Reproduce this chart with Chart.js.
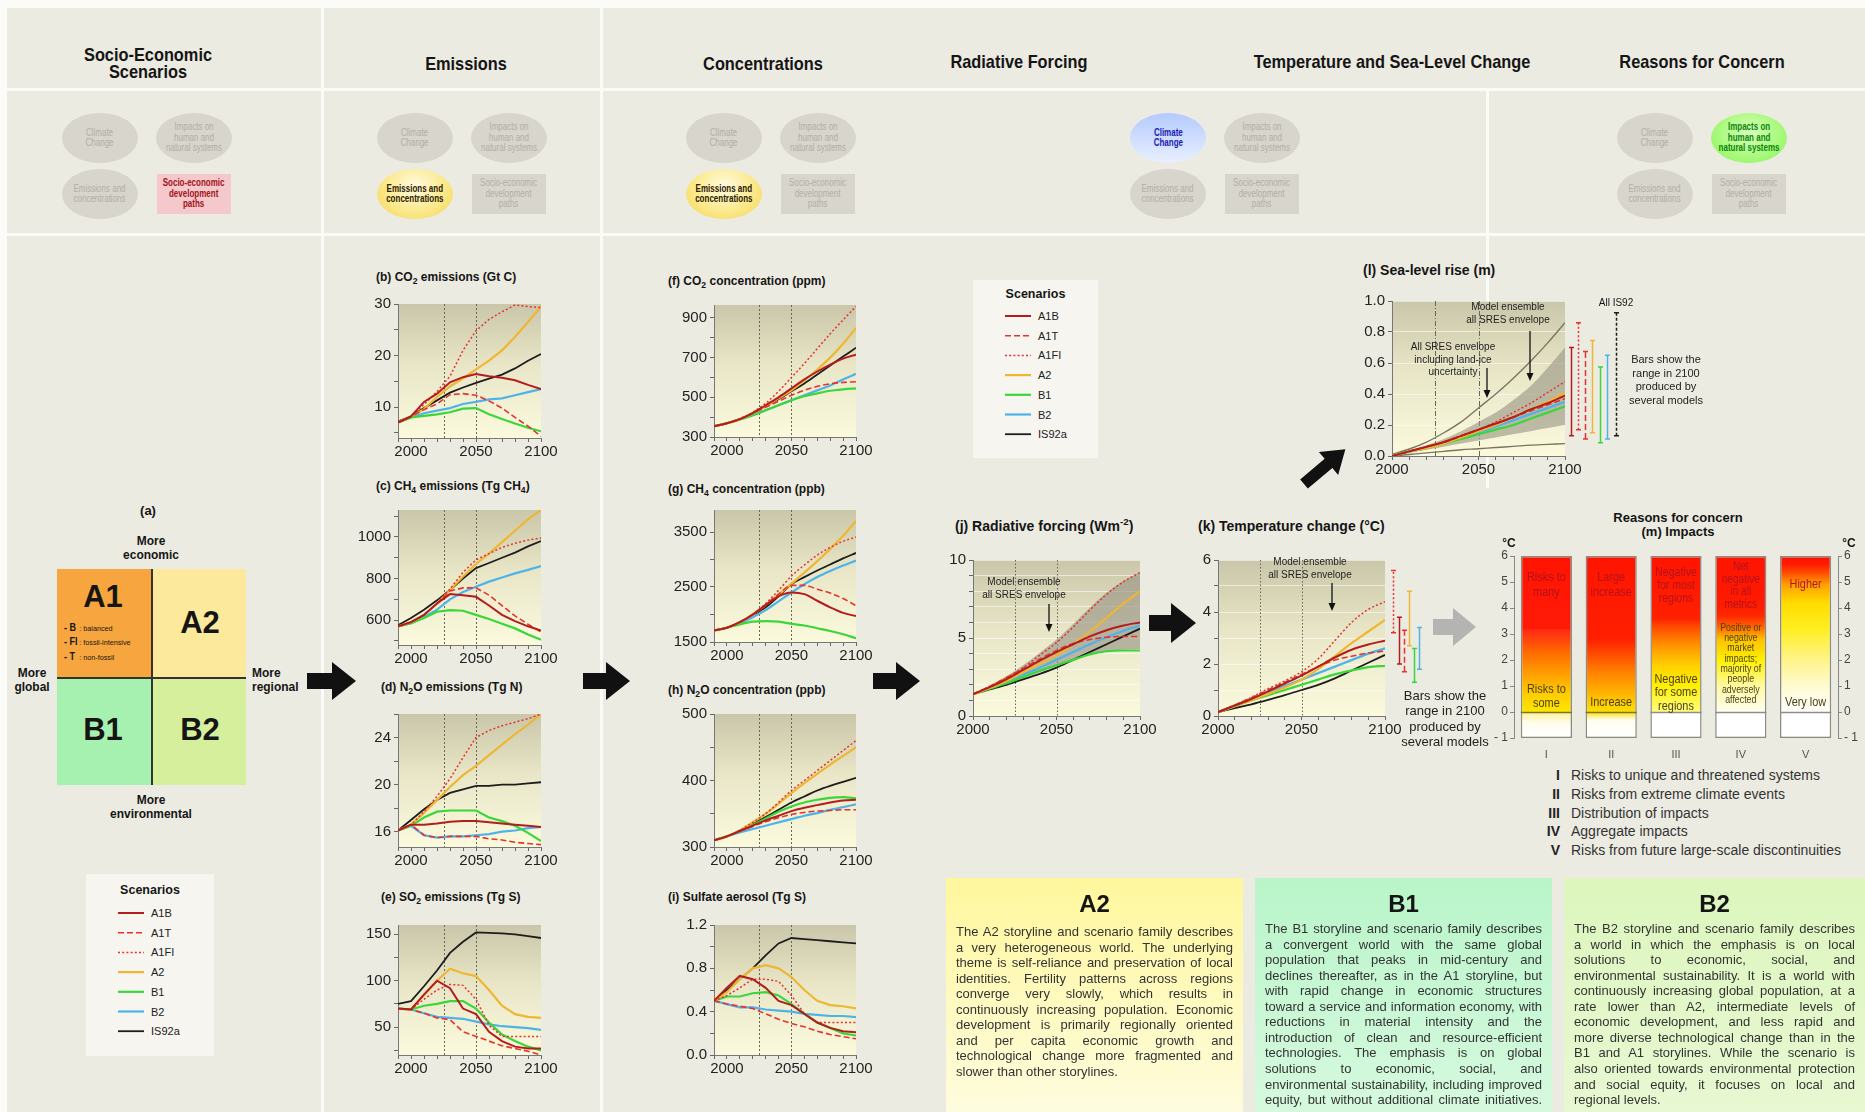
<!DOCTYPE html>
<html><head><meta charset="utf-8"><title>SRES scenarios</title>
<script src="https://cdn.jsdelivr.net/npm/chart.js@4.4.1/dist/chart.umd.min.js"></script>
<style>
html,body{margin:0;padding:0;background:#fff;}
#stage{position:relative;width:1865px;height:1112px;overflow:hidden;background:#ecebe1;font-family:"Liberation Sans",Arial,Helvetica,sans-serif;color:#151515;}
.t{position:absolute;white-space:nowrap;}
.b{font-weight:bold;}
.sep{position:absolute;background:#fbfbf7;}
.icon{position:absolute;display:flex;align-items:center;justify-content:center;text-align:center;font-size:10px;line-height:10.5px;color:#b1afa6;background:#d7d5cc;transform:translate(-50%,-50%);}
.icon span{display:inline-block;transform:scaleX(0.8);white-space:nowrap;}
.ell{border-radius:50%;width:76px;height:50px;}
.rct{width:74px;height:40px;}
.legend{position:absolute;background:#f6f5ef;}
.box{position:absolute;}
.box .ln{position:absolute;text-align:justify;text-align-last:justify;font-size:13px;line-height:15px;color:#333;transform:translateY(-50%);}
.box .ln.last{text-align-last:left;}
sub{font-size:72%;vertical-align:-3px;line-height:0;}
sup{font-size:70%;vertical-align:6px;line-height:0;}
canvas{position:absolute;}
svg{position:absolute;left:0;top:0;}
</style></head>
<body><div id="stage"></div>
<script>
// ================= DATA =================
const scenarios = ['A1B','A1T','A1FI','A2','B1','B2','IS92a'];
const scenColor = ['#b31d1d','#e6332d','#e6332d','#efb634','#3ad63a','#4fb3ea','#1d1d1d'];
const scenDash  = [[],[6,3],[2,2.2],[],[],[],[]];
const scenWidth = [2,1.6,1.5,2.2,2.2,2.2,1.8];

const yearsHist = [1990,2000,2010,2020,2030,2040,2050,2060,2070,2080,2090,2100];
const yearsProj = [2000,2010,2020,2030,2040,2050,2060,2070,2080,2090,2100];
const yearTicksHist = [1990,2000,2010,2020,2030,2040,2050,2060,2070,2080,2090,2100];
const yearTicksProj = [2000,2010,2020,2030,2040,2050,2060,2070,2080,2090,2100];
const yearLabels = [2000,2050,2100];
const markerYears = [2025,2050];

// (b) CO2 emissions (Gt C)
const co2Emissions = {
  A1B:  [7.0, 8.2, 11.0, 12.6, 14.8, 15.8, 16.4, 16.0, 15.7, 15.2, 14.3, 13.5],
  A1T:  [7.0, 8.2, 9.5, 10.6, 12.4, 12.6, 12.3, 11.2, 9.8, 8.0, 6.3, 4.3],
  A1FI: [7.0, 8.2, 10.5, 13.0, 16.0, 21.0, 24.8, 27.0, 28.5, 29.8, 29.5, 29.3],
  A2:   [7.0, 8.2, 9.6, 12.0, 14.0, 15.6, 17.3, 19.0, 21.0, 23.6, 26.5, 29.5],
  B1:   [7.0, 8.0, 8.3, 8.6, 9.0, 9.7, 9.8, 8.6, 7.7, 6.8, 6.0, 5.3],
  B2:   [7.0, 8.0, 8.8, 9.3, 9.8, 10.6, 11.0, 11.5, 11.7, 12.3, 12.9, 13.5],
  IS92a:[7.2, 8.2, 9.8, 11.3, 12.8, 13.8, 14.7, 15.5, 16.3, 17.5, 19.0, 20.3]
};
// (c) CH4 emissions (Tg CH4)
const ch4Emissions = {
  A1B:  [570, 590, 625, 680, 725, 720, 712, 670, 625, 595, 570, 550],
  A1T:  [570, 590, 625, 680, 740, 755, 755, 720, 670, 620, 580, 543],
  A1FI: [570, 590, 625, 680, 750, 830, 890, 920, 950, 970, 985, 995],
  A2:   [570, 590, 625, 680, 745, 810, 870, 920, 975, 1030, 1085, 1130],
  B1:   [570, 585, 610, 640, 648, 645, 625, 605, 582, 560, 530, 505],
  B2:   [570, 585, 615, 650, 700, 735, 760, 785, 805, 825, 842, 860],
  IS92a:[575, 610, 650, 695, 745, 800, 850, 875, 900, 925, 955, 980]
};
// (d) N2O emissions (Tg N)
const n2oEmissions = {
  A1B:  [16.1, 16.6, 16.6, 16.7, 16.85, 16.9, 16.9, 16.8, 16.7, 16.6, 16.5, 16.4],
  A1T:  [16.1, 16.6, 15.7, 15.5, 15.6, 15.6, 15.6, 15.4, 15.3, 15.1, 15.0, 14.9],
  A1FI: [16.1, 16.6, 17.7, 19.0, 20.5, 22.3, 24.0, 24.6, 25.0, 25.3, 25.6, 26.0],
  A2:   [16.1, 16.6, 17.6, 18.7, 19.8, 20.8, 21.6, 22.5, 23.4, 24.3, 25.1, 26.0],
  B1:   [16.1, 16.5, 17.2, 17.7, 17.8, 17.8, 17.8, 17.2, 16.9, 16.5, 15.9, 15.2],
  B2:   [16.1, 16.5, 15.7, 15.5, 15.6, 15.6, 15.7, 15.8, 16.0, 16.1, 16.3, 16.4],
  IS92a:[16.1, 17.0, 17.9, 18.7, 19.3, 19.6, 19.9, 19.9, 20.0, 20.0, 20.1, 20.2]
};
// (e) SO2 emissions (Tg S)
const so2Emissions = {
  A1B:  [70, 69, 85, 100, 92, 70, 64, 45, 35, 29, 27, 27],
  A1T:  [70, 69, 65, 60, 58, 45, 40, 35, 30, 27, 24, 20],
  A1FI: [70, 69, 80, 90, 96, 95, 80, 52, 40, 40, 40, 40],
  A2:   [70, 69, 85, 100, 113, 108, 105, 90, 73, 64, 61, 60],
  B1:   [70, 69, 73, 75, 78, 78, 70, 55, 42, 35, 29, 25],
  B2:   [70, 69, 65, 61, 60, 59, 56, 53, 51, 50, 49, 47],
  IS92a:[75, 78, 94, 111, 130, 142, 152, 151.5, 151, 150, 148, 146]
};
// (f) CO2 concentration (ppm)
const co2Conc = {
  A1B:  [354, 369, 390, 420, 460, 500, 545, 590, 630, 665, 695, 715],
  A1T:  [354, 369, 390, 420, 450, 480, 510, 535, 555, 568, 575, 578],
  A1FI: [354, 369, 392, 425, 470, 530, 600, 670, 745, 820, 890, 958],
  A2:   [354, 369, 390, 420, 455, 495, 535, 585, 640, 700, 770, 850],
  B1:   [354, 369, 388, 410, 435, 460, 485, 505, 520, 533, 540, 545],
  B2:   [354, 369, 388, 410, 435, 460, 485, 510, 535, 560, 590, 618],
  IS92a:[354, 369, 390, 420, 455, 490, 530, 570, 615, 660, 705, 750]
};
// (g) CH4 concentration (ppb)
const ch4Conc = {
  A1B:  [1710, 1760, 1860, 2000, 2170, 2330, 2400, 2370, 2250, 2130, 2030, 1970],
  A1T:  [1710, 1760, 1860, 2000, 2180, 2370, 2530, 2530, 2460, 2390, 2290, 2160],
  A1FI: [1710, 1760, 1860, 2000, 2200, 2440, 2700, 2900, 3080, 3220, 3330, 3410],
  A2:   [1710, 1760, 1860, 2000, 2170, 2360, 2560, 2760, 2970, 3190, 3430, 3700],
  B1:   [1710, 1760, 1820, 1870, 1880, 1870, 1830, 1800, 1750, 1700, 1640, 1570],
  B2:   [1710, 1760, 1840, 1950, 2080, 2240, 2400, 2550, 2680, 2790, 2890, 2980],
  IS92a:[1710, 1760, 1860, 1990, 2130, 2330, 2550, 2680, 2800, 2910, 3020, 3120]
};
// (h) N2O concentration (ppb)
const n2oConc = {
  A1B:  [310, 316, 324, 332, 340, 347, 354, 359, 363, 367, 370, 371],
  A1T:  [310, 316, 324, 331, 338, 344, 349, 352, 354, 355, 356, 356],
  A1FI: [310, 316, 325, 337, 350, 367, 385, 400, 415, 430, 445, 460],
  A2:   [310, 316, 325, 337, 350, 365, 381, 396, 410, 424, 437, 450],
  B1:   [310, 316, 324, 333, 343, 353, 361, 367, 371, 374, 375, 373],
  B2:   [310, 316, 322, 327, 332, 337, 342, 347, 351, 356, 360, 364],
  IS92a:[310, 316, 325, 335, 345, 356, 367, 376, 385, 392, 398, 404]
};
// (i) Sulfate aerosol (Tg S)
const sulfate = {
  A1B:  [0.50, 0.62, 0.73, 0.70, 0.62, 0.50, 0.46, 0.38, 0.30, 0.25, 0.22, 0.21],
  A1T:  [0.50, 0.47, 0.45, 0.43, 0.38, 0.33, 0.29, 0.26, 0.22, 0.19, 0.17, 0.15],
  A1FI: [0.50, 0.55, 0.62, 0.70, 0.70, 0.68, 0.55, 0.38, 0.30, 0.30, 0.30, 0.30],
  A2:   [0.50, 0.58, 0.70, 0.80, 0.83, 0.80, 0.72, 0.60, 0.50, 0.46, 0.45, 0.43],
  B1:   [0.50, 0.54, 0.54, 0.57, 0.58, 0.55, 0.47, 0.38, 0.30, 0.25, 0.20, 0.18],
  B2:   [0.50, 0.47, 0.44, 0.44, 0.42, 0.41, 0.40, 0.38, 0.37, 0.36, 0.36, 0.35],
  IS92a:[0.50, 0.60, 0.70, 0.80, 0.92, 1.03, 1.08, 1.07, 1.06, 1.05, 1.04, 1.03]
};
// (j) Radiative forcing (W m-2)
const forcing = {
  A1B:  [1.4, 1.85, 2.35, 2.95, 3.55, 4.1, 4.6, 5.1, 5.5, 5.8, 6.0],
  A1T:  [1.4, 1.9, 2.45, 3.05, 3.65, 4.2, 4.65, 4.9, 5.05, 5.1, 5.1],
  A1FI: [1.4, 1.9, 2.45, 3.1, 3.9, 4.7, 5.7, 6.8, 7.8, 8.6, 9.2],
  A2:   [1.4, 1.8, 2.25, 2.8, 3.35, 3.9, 4.6, 5.4, 6.3, 7.2, 8.0],
  B1:   [1.4, 1.75, 2.1, 2.5, 2.9, 3.25, 3.6, 3.95, 4.15, 4.2, 4.2],
  B2:   [1.4, 1.8, 2.2, 2.65, 3.1, 3.6, 4.1, 4.6, 5.05, 5.45, 5.8],
  IS92a:[1.4, 1.7, 2.0, 2.35, 2.7, 3.1, 3.6, 4.1, 4.6, 5.1, 5.6]
};
const forcingEnvHi = [1.4, 1.95, 2.55, 3.25, 4.05, 4.9, 5.9, 6.95, 7.9, 8.65, 9.2];
const forcingEnvLo = [1.4, 1.7, 2.0, 2.4, 2.8, 3.2, 3.6, 3.95, 4.15, 4.25, 4.3];
// (k) Temperature change (°C)
const temperature = {
  A1B:  [0.15, 0.4, 0.65, 0.95, 1.25, 1.55, 1.9, 2.25, 2.55, 2.75, 2.9],
  A1T:  [0.15, 0.42, 0.7, 1.0, 1.3, 1.6, 1.9, 2.15, 2.3, 2.42, 2.5],
  A1FI: [0.15, 0.42, 0.72, 1.05, 1.35, 1.7, 2.2, 2.9, 3.6, 4.1, 4.4],
  A2:   [0.15, 0.38, 0.6, 0.85, 1.1, 1.4, 1.8, 2.3, 2.8, 3.25, 3.7],
  B1:   [0.15, 0.38, 0.6, 0.8, 1.0, 1.2, 1.4, 1.6, 1.75, 1.88, 1.93],
  B2:   [0.15, 0.4, 0.65, 0.9, 1.15, 1.4, 1.65, 1.9, 2.15, 2.4, 2.6],
  IS92a:[0.15, 0.3, 0.45, 0.62, 0.8, 1.0, 1.2, 1.45, 1.75, 2.05, 2.35]
};
const tempBarScen = ['A1FI','A1B','A1T','A2','B1','B2'];
const tempBarLo   = [3.2, 2.0, 1.7, 2.7, 1.3, 1.8];
const tempBarHi   = [5.6, 3.8, 3.3, 4.8, 2.6, 3.4];
// (l) Sea-level rise (m)
const seaLevel = {
  A1B:  [0.0, 0.03, 0.06, 0.09, 0.13, 0.17, 0.21, 0.25, 0.30, 0.34, 0.39],
  A1T:  [0.0, 0.03, 0.06, 0.09, 0.13, 0.17, 0.21, 0.25, 0.29, 0.33, 0.37],
  A1FI: [0.0, 0.03, 0.06, 0.09, 0.13, 0.17, 0.22, 0.28, 0.34, 0.41, 0.48],
  A2:   [0.0, 0.03, 0.05, 0.08, 0.12, 0.16, 0.20, 0.25, 0.30, 0.35, 0.41],
  B1:   [0.0, 0.03, 0.05, 0.08, 0.11, 0.14, 0.17, 0.20, 0.24, 0.28, 0.32],
  B2:   [0.0, 0.03, 0.05, 0.08, 0.12, 0.15, 0.19, 0.23, 0.27, 0.31, 0.35]
};
const seaEnvHi = [0.0, 0.035, 0.07, 0.11, 0.16, 0.22, 0.28, 0.36, 0.45, 0.57, 0.70];
const seaEnvLo = [0.0, 0.02, 0.04, 0.06, 0.08, 0.10, 0.12, 0.14, 0.16, 0.18, 0.20];
const seaIceHi = [0.01, 0.045, 0.09, 0.15, 0.22, 0.31, 0.40, 0.50, 0.61, 0.73, 0.86];
const seaIceLo = [0.0, 0.01, 0.02, 0.03, 0.04, 0.047, 0.055, 0.062, 0.07, 0.075, 0.08];
const seaBarScen = ['A1B','A1FI','A1T','A2','B1','B2','IS92a'];
const seaBarLo   = [0.13, 0.17, 0.11, 0.15, 0.085, 0.11, 0.13];
const seaBarHi   = [0.70, 0.86, 0.675, 0.745, 0.575, 0.65, 0.925];
// (m) Reasons for concern
const rfcNames = ['I','II','III','IV','V'];
const rfcLow   = [-1,-1,-1,-1,-1];
const rfcHigh  = [6,6,6,6,6];
const rfcTop = [['Risks to','many'],['Large','increase'],['Negative','for most','regions'],['Net','negative','in all','metrics'],['Higher']];
const rfcTopAt = [4.9, 4.9, 4.87, 4.85, 4.92];
const rfcBottom = [['Risks to','some'],['Increase'],['Negative','for some','regions'],
  ['Positive or','negative','market','impacts;','majority of','people','adversely','affected'],['Very low']];
const rfcBottomAt = [0.6, 0.38, 0.75, 1.85, 0.38];
const rfcLegend = [['I','Risks to unique and threatened systems'],['II','Risks from extreme climate events'],
  ['III','Distribution of impacts'],['IV','Aggregate impacts'],['V','Risks from future large-scale discontinuities']];

// ================= HELPERS =================
const stage = document.getElementById('stage');
const FONT = '"Liberation Sans", Arial, sans-serif';
Chart.defaults.font.family = FONT;
Chart.defaults.color = '#222';

function el(tag, cls, css, html){ const d=document.createElement(tag); if(cls) d.className=cls; if(css) d.style.cssText=css; if(html!==undefined) d.innerHTML=html; stage.appendChild(d); return d; }
function T(html, x, y, cls, css, anchor, sx){
  const tx = anchor==='c' ? '-50%' : anchor==='r' ? '-100%' : '0';
  const org = anchor==='c' ? 'center' : anchor==='r' ? 'right' : 'left';
  const sc = sx ? ` scaleX(${sx})` : '';
  return el('div','t '+(cls||''), `left:${x}px;top:${y}px;transform-origin:${org} center;transform:translate(${tx},-50%)${sc};`+(css||''), html);
}
function mkCanvas(left, top, w, h){
  const c=document.createElement('canvas'); c.width=w; c.height=h;
  c.style.left=left+'px'; c.style.top=top+'px'; c.style.width=w+'px'; c.style.height=h+'px';
  stage.appendChild(c); return c;
}
function near(list, v){ return list.some(m=>Math.abs(m-v)<1e-7); }

// ================= BACKGROUND / SEPARATORS =================
el('div','sep','left:0;top:0;width:1865px;height:8px;');
el('div','sep','left:0;top:0;width:7px;height:1112px;');
el('div','sep','left:7px;top:88px;width:1858px;height:3px;');
el('div','sep','left:7px;top:233px;width:1858px;height:3px;');
el('div','sep','left:321px;top:8px;width:3px;height:1104px;');
el('div','sep','left:600px;top:8px;width:3px;height:1104px;');
el('div','sep','left:1486px;top:90px;width:3px;height:398px;');

// ================= HEADERS =================
const hcss = 'font-size:19px;line-height:17px;text-align:center;';
T('Socio-Economic<br>Scenarios', 148, 63, 'b', hcss, 'c', 0.86);
T('Emissions', 466, 63, 'b', hcss, 'c', 0.86);
T('Concentrations', 763, 63, 'b', hcss, 'c', 0.86);
T('Radiative Forcing', 1019, 61, 'b', hcss, 'c', 0.86);
T('Temperature and Sea-Level Change', 1392, 61, 'b', hcss, 'c', 0.86);
T('Reasons for Concern', 1702, 61, 'b', hcss, 'c', 0.86);

// ================= ICONS =================
const iconClusters = [
  {cx:147, hi:'socio'}, {cx:462, hi:'emis'}, {cx:771, hi:'emis'}, {cx:1215, hi:'cc'}, {cx:1702, hi:'imp'}
];
iconClusters.forEach(c=>{
  const L=c.cx-47, R=c.cx+47;
  const cc = el('div','icon ell',`left:${L}px;top:138px;`,'<span>Climate<br>Change</span>');
  const im = el('div','icon ell',`left:${R}px;top:138px;`,'<span>Impacts on<br>human and<br>natural systems</span>');
  const em = el('div','icon ell',`left:${L}px;top:194px;`,'<span>Emissions and<br>concentrations</span>');
  const so = el('div','icon rct',`left:${R}px;top:194px;`,'<span>Socio-economic<br>development<br>paths</span>');
  if(c.hi==='socio'){ so.style.background='#f5c8cb'; so.style.color='#a3121b'; so.style.fontWeight='bold'; }
  if(c.hi==='emis'){ em.style.background='radial-gradient(ellipse at 50% 35%, #fffbe2 0%, #fbe98c 55%, #f3d350 100%)'; em.style.color='#2b2000'; em.style.fontWeight='bold'; }
  if(c.hi==='cc'){ cc.style.background='linear-gradient(#b4c9ff, #e9f0ff)'; cc.style.color='#1a1ab4'; cc.style.fontWeight='bold'; }
  if(c.hi==='imp'){ im.style.background='radial-gradient(ellipse at 50% 40%, #d8ffbc 0%, #a6f97a 60%, #8cf05a 100%)'; im.style.color='#0c860c'; im.style.fontWeight='bold'; }
});

// ================= PANEL (a) =================
el('div','',`position:absolute;left:57px;top:569px;width:95px;height:109px;background:#f7a53f;`);
el('div','',`position:absolute;left:152px;top:569px;width:94px;height:109px;background:#fde99b;`);
el('div','',`position:absolute;left:57px;top:678px;width:95px;height:107px;background:#a6f1b0;`);
el('div','',`position:absolute;left:152px;top:678px;width:94px;height:107px;background:#d5ef9c;`);
el('div','',`position:absolute;left:151px;top:569px;width:2px;height:216px;background:#333;`);
el('div','',`position:absolute;left:57px;top:677px;width:189px;height:2px;background:#333;`);
const bigQ = 'font-size:31px;font-weight:bold;';
T('A1', 103, 597, '', bigQ, 'c');
T('A2', 200, 623, '', bigQ, 'c');
T('B1', 103, 730, '', bigQ, 'c');
T('B2', 200, 730, '', bigQ, 'c');
const subQ = (b, s)=>`<b style="display:inline-block;width:17px;font-size:10px">- ${b}</b><span style="font-size:8px">: ${s}</span>`;
T(subQ('B','balanced'), 64, 626, '', '', '', 0.9);
T(subQ('FI','fossil-intensive'), 64, 640, '', '', '', 0.9);
T(subQ('T','non-fossil'), 64, 655, '', '', '', 0.9);
const lab = 'font-size:13px;font-weight:bold;line-height:14px;text-align:center;';
T('(a)', 148, 510, '', 'font-size:13px;font-weight:bold;', 'c');
T('More<br>economic', 151, 548, '', lab, 'c', 0.92);
T('More<br>global', 32, 680, '', lab, 'c', 0.92);
T('More<br>regional', 252, 680, '', lab.replace('center','left'), '', 0.92);
T('More<br>environmental', 151, 807, '', lab, 'c', 0.92);

// ================= LEGENDS =================
function legendBox(left, top, w, h, titleDy, rowDy){
  el('div','legend',`left:${left}px;top:${top}px;width:${w}px;height:${h}px;`);
  T('Scenarios', left+w/2, top+titleDy, 'b', 'font-size:12.5px;', 'c');
  let svg = `<svg width="${w}" height="${h}" style="left:${left}px;top:${top}px;">`;
  scenarios.forEach((s,i)=>{
    const y = rowDy + i*19.7;
    svg += `<line x1="32" x2="58" y1="${y}" y2="${y}" stroke="${scenColor[i]}" stroke-width="${scenWidth[i]}" stroke-dasharray="${scenDash[i].join(',')}"/>`;
  });
  svg += '</svg>';
  stage.insertAdjacentHTML('beforeend', svg);
  scenarios.forEach((s,i)=>{ T(s, left+65, top+rowDy+i*19.7, '', 'font-size:11px;color:#222;'); });
}
legendBox(86, 874, 128, 182, 16, 39);
legendBox(973, 280, 125, 178, 14, 36);

// ================= CHART FACTORY =================
const plotBg = { id:'plotBg', beforeDraw(ch){
  const a=ch.chartArea, c=ch.ctx;
  const g=c.createLinearGradient(0,a.top,0,a.bottom);
  g.addColorStop(0,'#cac6a9'); g.addColorStop(0.45,'#e8e6c7'); g.addColorStop(1,'#fcfadd');
  c.save(); c.fillStyle=g; c.fillRect(a.left,a.top,a.right-a.left,a.bottom-a.top); c.restore();
}};

function lineChart(box, o){
  const LW=o.lw||44, XH=24, PT=10, PR=o.pr||26;
  const cv=mkCanvas(box.x-LW, box.y-PT, box.w+LW+PR, box.h+PT+XH);
  const pts=(arr)=>o.xs.map((x,i)=>({x, y:arr[i]}));
  const smooth = o.smooth ? {tension:0.4, cubicInterpolationMode:'monotone'} : {tension:0};
  const ds=[];
  scenarios.forEach((s,i)=>{
    if(!o.data[s]) return;
    ds.push(Object.assign({label:s, data:pts(o.data[s]), borderColor:scenColor[i], borderDash:scenDash[i],
      borderWidth:scenWidth[i], pointRadius:0, fill:false, order:1}, smooth));
  });
  if(o.outer){
    ds.push(Object.assign({data:pts(o.outer.hi), borderColor:'#7a7560', borderWidth:1.4, pointRadius:0, fill:false, order:2}, smooth));
    ds.push(Object.assign({data:pts(o.outer.lo), borderColor:'#7a7560', borderWidth:1.4, pointRadius:0, fill:false, order:2}, smooth));
  }
  if(o.env){
    ds.push(Object.assign({data:pts(o.env.hi), borderWidth:0, borderColor:'rgba(0,0,0,0)', backgroundColor:o.env.fill, fill:'+1', pointRadius:0, order:5}, smooth));
    ds.push(Object.assign({data:pts(o.env.lo), borderWidth:0, borderColor:'rgba(0,0,0,0)', fill:false, pointRadius:0, order:5}, smooth));
  }
  const vlines = { id:'vlines', beforeDatasetsDraw(ch){
    const a=ch.chartArea, c=ch.ctx, xs=ch.scales.x;
    c.save(); c.strokeStyle=o.vColor||'#66665c'; c.lineWidth=1; c.setLineDash(o.vDash||[2,2]);
    markerYears.forEach(yr=>{ const x=Math.round(xs.getPixelForValue(yr))+0.5; c.beginPath(); c.moveTo(x,a.top); c.lineTo(x,a.bottom); c.stroke(); });
    c.restore();
  }};
  const rbars = { id:'rbars', afterDraw(ch){
    if(!o.bars) return;
    const a=ch.chartArea, c=ch.ctx, ys=ch.scales.y;
    o.bars.scen.forEach((s,i)=>{
      const si=scenarios.indexOf(s);
      const x=Math.round(a.right+o.bars.dx[i])+0.5, y1=ys.getPixelForValue(o.bars.lo[i]), y2=ys.getPixelForValue(o.bars.hi[i]);
      c.save(); c.strokeStyle=scenColor[si]; c.lineWidth=1.5;
      c.setLineDash(s==='IS92a'?[3,2]:scenDash[si]);
      c.beginPath(); c.moveTo(x,y1); c.lineTo(x,y2); c.stroke();
      c.setLineDash([]); c.beginPath(); c.moveTo(x-2.5,y1); c.lineTo(x+2.5,y1); c.moveTo(x-2.5,y2); c.lineTo(x+2.5,y2); c.stroke();
      c.restore();
    });
  }};
  new Chart(cv, {
    type:'line',
    data:{datasets:ds},
    options:{
      responsive:false, animation:false, devicePixelRatio:1, events:[],
      layout:{padding:{left:0,right:PR,top:PT,bottom:0}},
      plugins:{legend:{display:false}, tooltip:{enabled:false}, title:{display:false}},
      scales:{
        x:{type:'linear', min:o.xmin, max:o.xmax,
          afterFit(s){s.height=XH;},
          afterBuildTicks(s){s.ticks=o.xt.map(v=>({value:v}));},
          ticks:{autoSkip:false, maxRotation:0, padding:1, font:{size:15}, color:'#222', callback:(v)=>near(yearLabels,v)?String(v):''},
          grid:{drawOnChartArea:false, tickLength:4, tickColor:'#666'},
          border:{color:'#777', width:1}},
        y:{type:'linear', min:o.ymin, max:o.ymax,
          afterFit(s){s.width=LW;},
          afterBuildTicks(s){s.ticks=o.yt.map(v=>({value:v}));},
          ticks:{autoSkip:false, padding:3, font:{size:15}, color:'#222', callback:(v)=>near(o.ylab,v)?o.yfmt(v):''},
          grid:{drawOnChartArea:!!o.gridY, color:'rgba(255,255,255,0.55)', tickLength:4, tickColor:'#666'},
          border:{color:'#777', width:1}}
      }
    },
    plugins:[plotBg, vlines, rbars]
  });
}
const fInt = v=>String(Math.round(v));
const f1 = v=>v.toFixed(1);

// Column 2: emissions
lineChart({x:398,y:302,w:143,h:136}, {xs:yearsHist, data:co2Emissions, xmin:1990, xmax:2100, xt:yearTicksHist,
  ymin:4, ymax:30, yt:[5,10,15,20,25,30], ylab:[10,20,30], yfmt:fInt});
lineChart({x:398,y:508,w:143,h:137}, {xs:yearsHist, data:ch4Emissions, xmin:1990, xmax:2100, xt:yearTicksHist,
  ymin:480, ymax:1130, yt:[500,600,700,800,900,1000,1100], ylab:[600,800,1000], yfmt:fInt});
lineChart({x:398,y:712,w:143,h:135}, {xs:yearsHist, data:n2oEmissions, xmin:1990, xmax:2100, xt:yearTicksHist,
  ymin:14.7, ymax:26, yt:[16,18,20,22,24,26], ylab:[16,20,24], yfmt:fInt});
lineChart({x:398,y:923,w:143,h:132}, {xs:yearsHist, data:so2Emissions, xmin:1990, xmax:2100, xt:yearTicksHist,
  ymin:20, ymax:160, yt:[25,50,75,100,125,150], ylab:[50,100,150], yfmt:fInt});
// Column 3: concentrations
lineChart({x:714,y:303,w:142,h:134}, {xs:yearsHist, data:co2Conc, xmin:1990, xmax:2100, xt:yearTicksHist, smooth:true,
  ymin:300, ymax:965, yt:[300,400,500,600,700,800,900], ylab:[300,500,700,900], yfmt:fInt});
lineChart({x:714,y:508,w:142,h:134}, {xs:yearsHist, data:ch4Conc, xmin:1990, xmax:2100, xt:yearTicksHist, smooth:true,
  ymin:1500, ymax:3900, yt:[1500,2000,2500,3000,3500], ylab:[1500,2500,3500], yfmt:fInt});
lineChart({x:714,y:712,w:142,h:135}, {xs:yearsHist, data:n2oConc, xmin:1990, xmax:2100, xt:yearTicksHist, smooth:true,
  ymin:300, ymax:500, yt:[300,350,400,450,500], ylab:[300,400,500], yfmt:fInt});
lineChart({x:714,y:923,w:142,h:132}, {xs:yearsHist, data:sulfate, xmin:1990, xmax:2100, xt:yearTicksHist,
  ymin:0, ymax:1.2, yt:[0,0.2,0.4,0.6,0.8,1.0,1.2], ylab:[0,0.4,0.8,1.2], yfmt:f1});
// (j) (k) (l)
lineChart({x:973,y:558,w:167,h:158}, {xs:yearsProj, data:forcing, xmin:2000, xmax:2100, xt:yearTicksProj, smooth:true,
  ymin:0, ymax:10, yt:[0,1,2,3,4,5,6,7,8,9,10], ylab:[0,5,10], yfmt:fInt, gridY:true,
  env:{hi:forcingEnvHi, lo:forcingEnvLo, fill:'rgba(150,146,130,0.62)'}, vDash:[1.5,2]});
lineChart({x:1218,y:558,w:167,h:158}, {xs:yearsProj, data:temperature, xmin:2000, xmax:2100, xt:yearTicksProj, smooth:true,
  ymin:0, ymax:6, yt:[0,1,2,3,4,5,6], ylab:[0,2,4,6], yfmt:fInt, gridY:true, pr:44, vDash:[1.5,2],
  bars:{scen:tempBarScen, lo:tempBarLo, hi:tempBarHi, dx:[8,14,19,24,29,34]}});
lineChart({x:1392,y:299,w:173,h:157}, {xs:yearsProj, data:seaLevel, xmin:2000, xmax:2100, xt:yearTicksProj, smooth:true,
  ymin:0, ymax:1.0, yt:[0,0.2,0.4,0.6,0.8,1.0], ylab:[0,0.2,0.4,0.6,0.8,1.0], yfmt:f1, gridY:true, pr:60, vDash:[5,2,1,2],
  env:{hi:seaEnvHi, lo:seaEnvLo, fill:'rgba(150,146,130,0.6)'}, outer:{hi:seaIceHi, lo:seaIceLo},
  bars:{scen:seaBarScen, lo:seaBarLo, hi:seaBarHi, dx:[6,13,20,27,35,42,51]}});

// ================= (m) REASONS FOR CONCERN =================
const rfcStops = [
  [[-1,'#ffffff'],[-0.45,'#fffdf0'],[-0.05,'#fff3a0'],[0,'#ffe600'],[0.7,'#ffcc00'],[1.5,'#ff9c00'],[2.3,'#ff6a00'],[2.9,'#ff3c10'],[3.15,'#ff2c12'],[3.2,'#ff1a08'],[6,'#ff1400']],
  [[-1,'#ffffff'],[-0.3,'#fffdf0'],[0,'#ffdf00'],[0.5,'#ffc200'],[1.5,'#ff8400'],[2.3,'#ff4600'],[2.8,'#ff2000'],[6,'#ff1400']],
  [[-1,'#ffffff'],[0,'#ffffff'],[0.001,'#fffb80'],[1.0,'#fff000'],[1.8,'#ffd000'],[2.6,'#ff9000'],[3.3,'#ff4800'],[3.6,'#ff2000'],[6,'#ff1400']],
  [[-1,'#ffffff'],[0,'#ffffff'],[0.001,'#fffef0'],[1,'#fffaa0'],[2,'#fff000'],[2.8,'#ffc000'],[3.3,'#ff6000'],[3.7,'#ff2800'],[4.2,'#ff1a00'],[6,'#ff1400']],
  [[-1,'#ffffff'],[0,'#ffffff'],[1,'#fffbd0'],[2.2,'#fff27a'],[3.2,'#ffee20'],[4.2,'#ffdc00'],[4.9,'#ffa000'],[5.4,'#ff4400'],[5.7,'#ff1a00'],[6,'#ff1400']]
];
const rfcTopFont = [[13,15],[13,15],[12.5,13],[12,12.5],[13,15]];
const rfcBotFont = [[13,14],[13,14],[13,13.5],[10.5,10.3],[13,14]];
(function(){
  const box={x:1514,y:556,w:324,h:182};
  const LW=30, RW=30, PT=10, XH=22;
  const cv=mkCanvas(box.x-LW, box.y-PT, box.w+LW+RW, box.h+PT+XH);
  const grad=(c)=>{
    const ch=c.chart; if(!ch.chartArea) return '#ff2000';
    const y=ch.scales.y; const g=ch.ctx.createLinearGradient(0,y.getPixelForValue(-1),0,y.getPixelForValue(6));
    rfcStops[c.dataIndex].forEach(([v,col])=>g.addColorStop((v+1)/7,col)); return g;
  };
  const txt={ id:'rfcText', afterDatasetsDraw(ch){
    const c=ch.ctx, y=ch.scales.y, meta=ch.getDatasetMeta(0);
    meta.data.forEach((bar,i)=>{
      const x=bar.x, w=bar.width, y0=Math.round(y.getPixelForValue(0))+0.5;
      c.save(); c.strokeStyle=i<2?'#77752f':'#8e8e89'; c.lineWidth=1.5;
      c.beginPath(); c.moveTo(x-w/2,y0); c.lineTo(x+w/2,y0); c.stroke();
      c.textAlign='center'; c.textBaseline='middle';
      const draw=(lines, at, f, col)=>{ c.font=`${f[0]}px ${FONT}`; c.fillStyle=col; const yc=y.getPixelForValue(at);
        lines.forEach((s,k)=>{ c.save(); c.translate(x, yc+(k-(lines.length-1)/2)*f[1]); c.scale(0.84,1); c.fillText(s,0,0); c.restore(); }); };
      draw(rfcTop[i], rfcTopAt[i], rfcTopFont[i], '#b3121e');
      draw(rfcBottom[i], rfcBottomAt[i], rfcBotFont[i], '#4b4318');
      c.restore();
    });
  }};
  const yAx=(pos)=>({position:pos, min:-1, max:6, afterFit(s){s.width=pos==='left'?LW:RW;},
    ticks:{stepSize:1, font:{size:12}, color:'#444', padding:2, callback:(v)=>v<0?'- '+Math.abs(v):String(v)},
    grid:{drawOnChartArea:false, tickLength:4, tickColor:'#888'}, border:{color:'#888'}});
  new Chart(cv,{
    type:'bar',
    data:{labels:rfcNames, datasets:[{data:rfcLow.map((v,i)=>[v,rfcHigh[i]]), backgroundColor:grad,
      borderColor:'#8c8c87', borderWidth:1.5, borderSkipped:false, barPercentage:0.79, categoryPercentage:1}]},
    options:{responsive:false, animation:false, devicePixelRatio:1, events:[],
      layout:{padding:{left:0,right:0,top:PT,bottom:0}},
      plugins:{legend:{display:false}, tooltip:{enabled:false}},
      scales:{
        x:{grid:{display:false}, border:{display:false}, afterFit(s){s.height=XH;}, ticks:{font:{size:11}, color:'#555', padding:2}},
        y:yAx('left'), y2:yAx('right')
      }},
    plugins:[txt]
  });
})();
T('Reasons for concern', 1678, 517, 'b', 'font-size:13px;', 'c');
T('(m) Impacts', 1678, 531, 'b', 'font-size:13px;', 'c');
T('°C', 1509, 543, 'b', 'font-size:12px;', 'c');
T('°C', 1849, 543, 'b', 'font-size:12px;', 'c');
rfcLegend.forEach(([r,s],i)=>{
  const y=775+i*18.8;
  T(r, 1560, y, 'b', 'font-size:14px;color:#222;', 'r');
  T(s, 1571, y, '', 'font-size:14px;color:#333;');
});

// ================= CHART TITLES =================
const pt = 'font-size:12px;font-weight:bold;';
T('(b) CO<sub>2</sub> emissions (Gt C)', 376, 277, '', pt);
T('(c) CH<sub>4</sub> emissions (Tg CH<sub>4</sub>)', 376, 486, '', pt);
T('(d) N<sub>2</sub>O emissions (Tg N)', 381, 687, '', pt);
T('(e) SO<sub>2</sub> emissions (Tg S)', 381, 897, '', pt);
T('(f) CO<sub>2</sub> concentration (ppm)', 668, 281, '', pt);
T('(g) CH<sub>4</sub> concentration (ppb)', 668, 489, '', pt);
T('(h) N<sub>2</sub>O concentration (ppb)', 668, 690, '', pt);
T('(i) Sulfate aerosol (Tg S)', 668, 897, '', pt);
const pt2 = 'font-size:14px;font-weight:bold;';
T('(j) Radiative forcing (Wm<sup>-2</sup>)', 955, 526, '', pt2);
T('(k) Temperature change (°C)', 1198, 526, '', pt2);
T('(l) Sea-level rise (m)', 1363, 270, '', pt2);

// annotations
const an = 'font-size:10px;line-height:12.5px;text-align:center;color:#222;';
T('Model ensemble<br>all SRES envelope', 1024, 588, '', an, 'c');
T('Model ensemble<br>all SRES envelope', 1310, 568, '', an, 'c');
T('Model ensemble<br>all SRES envelope', 1508, 313, '', an, 'c');
T('All SRES envelope<br>including land-ice<br>uncertainty', 1453, 360, '', an, 'c');
T('All IS92', 1616, 302, '', 'font-size:10px;', 'c');
T('Bars show the<br>range in 2100<br>produced by<br>several models', 1445, 719, '', 'font-size:13px;line-height:15.3px;text-align:center;color:#222;', 'c');
T('Bars show the<br>range in 2100<br>produced by<br>several models', 1666, 380, '', 'font-size:11px;line-height:13.5px;text-align:center;color:#222;', 'c');

// ================= ARROWS =================
function blockArrow(x0,x1,cy,sh,hh,hl,color,rot){
  const xh=x1-hl;
  const p=`${x0},${cy-sh} ${xh},${cy-sh} ${xh},${cy-hh} ${x1},${cy} ${xh},${cy+hh} ${xh},${cy+sh} ${x0},${cy+sh}`;
  return `<polygon points="${p}" fill="${color}" ${rot?`transform="rotate(${rot} ${x0} ${cy})"`:''}/>`;
}
function thinArrow(x,y0,y1){
  return `<line x1="${x}" y1="${y0}" x2="${x}" y2="${y1-6}" stroke="#111" stroke-width="1.3"/><polygon points="${x-3.5},${y1-8} ${x+3.5},${y1-8} ${x},${y1}" fill="#111"/>`;
}
let svg = '<svg width="1865" height="1112" style="pointer-events:none">';
svg += blockArrow(307,356,681,8,19,24,'#111');
svg += blockArrow(583,630,681,8,19,24,'#111');
svg += blockArrow(873,920,681,8,19,24,'#111');
svg += blockArrow(1149,1196,623,8,20,25,'#111');
svg += blockArrow(1433,1476,627,8,19,23,'#b4b4b2');
svg += blockArrow(1304,1358,484,6,15,22,'#111',-40);
svg += thinArrow(1049,604,632);
svg += thinArrow(1332,583,611);
svg += thinArrow(1487,368,398);
svg += thinArrow(1530,331,381);
svg += '</svg>';
stage.insertAdjacentHTML('beforeend', svg);

// ================= STORYLINE TEXT BOXES =================
const storyA2 = ['The A2 storyline and scenario family describes','a very heterogeneous world. The underlying',
 'theme is self-reliance and preservation of local','identities. Fertility patterns across regions',
 'converge very slowly, which results in','continuously increasing population. Economic',
 'development is primarily regionally oriented','and per capita economic growth and',
 'technological change more fragmented and','slower than other storylines.'];
const storyB1 = ['The B1 storyline and scenario family describes','a convergent world with the same global',
 'population that peaks in mid-century and','declines thereafter, as in the A1 storyline, but',
 'with rapid change in economic structures','toward a service and information economy, with',
 'reductions in material intensity and the','introduction of clean and resource-efficient',
 'technologies. The emphasis is on global','solutions to economic, social, and',
 'environmental sustainability, including improved','equity, but without additional climate initiatives.'];
const storyB2 = ['The B2 storyline and scenario family describes','a world in which the emphasis is on local',
 'solutions to economic, social, and','environmental sustainability. It is a world with',
 'continuously increasing global population, at a','rate lower than A2, intermediate levels of',
 'economic development, and less rapid and','more diverse technological change than in the',
 'B1 and A1 storylines. While the scenario is','also oriented towards environmental protection',
 'and social equity, it focuses on local and','regional levels.'];
function storyBox(left, width, bg, title, lines, firstY, lastJustified){
  const top=878;
  const b=el('div','box',`left:${left}px;top:${top}px;width:${width}px;height:${1112-top}px;background:${bg};`);
  const tt=document.createElement('div'); tt.className='t b';
  tt.style.cssText=`left:0;width:100%;text-align:center;top:${26}px;transform:translateY(-50%);font-size:24px;`;
  tt.textContent=title; b.appendChild(tt);
  lines.forEach((s,i)=>{
    const d=document.createElement('div');
    d.className='ln'+((i===lines.length-1 && !lastJustified)?' last':'');
    d.style.left='10px'; d.style.width=(width-20)+'px'; d.style.top=(firstY-top+i*15.55)+'px';
    d.textContent=s; b.appendChild(d);
  });
}
storyBox(946, 297, 'linear-gradient(#fff79c, #fefcde)', 'A2', storyA2, 931, false);
storyBox(1255, 297, 'linear-gradient(#b9f5c9, #d6f9de)', 'B1', storyB1, 928, true);
storyBox(1564, 301, 'linear-gradient(#dcf6bd, #e8f8d2)', 'B2', storyB2, 928, false);
</script></body></html>
